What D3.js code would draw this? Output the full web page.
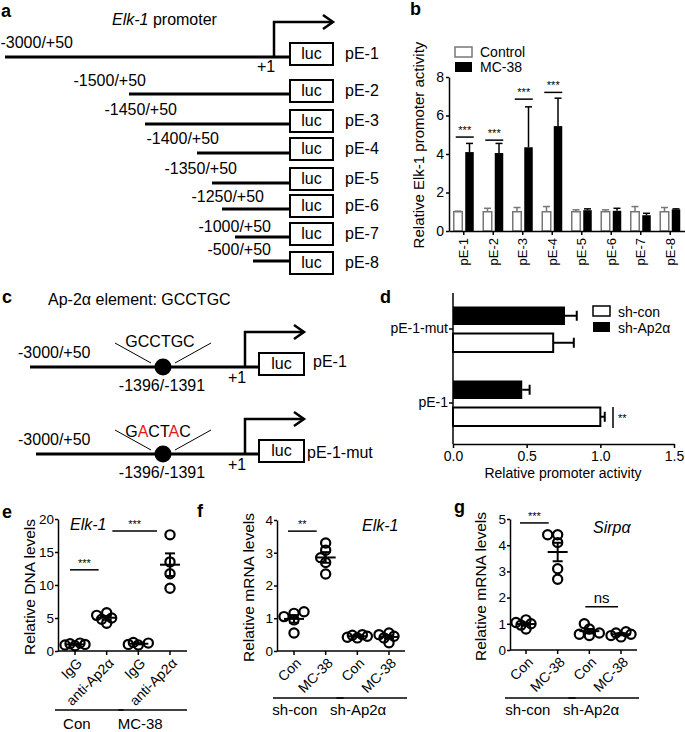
<!DOCTYPE html>
<html><head><meta charset="utf-8">
<script src="https://cdn.jsdelivr.net/npm/d3@7"></script>
<style>
body{margin:0;background:#fff}
svg{display:block}
text{font-family:"Liberation Sans",Arial,Helvetica,sans-serif;fill:#000}
</style>
</head><body>
<svg id="fig" width="685" height="732"></svg>
<script>
// ================= DATA =================
// Panel a: Elk-1 promoter deletion constructs
const aConstructs = ["pE-1","pE-2","pE-3","pE-4","pE-5","pE-6","pE-7","pE-8"];
const aStarts = [-3000,-1500,-1450,-1400,-1350,-1250,-1000,-500];
const aEnd = 50;

// Panel b: relative Elk-1 promoter activity
const bCategories = ["pE-1","pE-2","pE-3","pE-4","pE-5","pE-6","pE-7","pE-8"];
const bControl    = [1.0, 1.0, 1.0, 1.0, 1.0, 1.0, 1.0, 1.0];
const bControlErr = [0.03,0.18,0.22,0.27,0.10,0.10,0.27,0.22];
const bMC38       = [4.10,4.05,4.35,5.45,1.08,1.05,0.82,1.12];
const bMC38Err    = [0.45,0.50,2.10,1.45,0.07,0.13,0.10,0.03];
const bSigHeights = [4.88,4.72,6.85,7.20];   // "***" bars on pE-1..pE-4
const bYTicks = [0,2,4,6,8];
const bSeries = ["Control","MC-38"];

// Panel c: Ap-2α element
const cWild = "GCCTGC";
const cMut = ["G","A","C","T","A","C"];
const cMutFlags = [0,1,0,0,1,0];
const cSite = -1396;

// Panel d: relative promoter activity
const dCategories = ["pE-1-mut","pE-1"];
const dShCon      = [0.68, 1.00];
const dShConErr   = [0.14, 0.03];
const dShAp2      = [0.76, 0.47];
const dShAp2Err   = [0.08, 0.05];
const dXTicks = [0, 0.5, 1.0, 1.5];
const dSeries = ["sh-con","sh-Ap2α"];

// Panel e: ChIP, relative DNA levels
const eLabels = ["IgG","anti-Ap2α","IgG","anti-Ap2α"];
const eGroups = ["Con","MC-38"];
const ePoints = [
  [0.8, 1.0, 1.2, 1.1, 0.9],
  [4.2, 4.8, 5.0, 5.4, 5.8],
  [0.9, 1.0, 1.2, 1.3],
  [9.5, 11.7, 13.5, 17.6]
];
const eYTicks = [0,5,10,15,20];

// Panel f: Elk-1 mRNA
const fLabels = ["Con","MC-38","Con","MC-38"];
const fGroups = ["sh-con","sh-Ap2α"];
const fPoints = [
  [1.20, 1.15, 1.05, 0.95, 0.55],
  [3.30, 3.08, 2.85, 2.70, 2.35],
  [0.50, 0.45, 0.42, 0.40, 0.48],
  [0.55, 0.50, 0.45, 0.40, 0.25]
];
const fYTicks = [0,1,2,3,4];

// Panel g: Sirpα mRNA
const gLabels = ["Con","MC-38","Con","MC-38"];
const gGroups = ["sh-con","sh-Ap2α"];
const gPoints = [
  [1.15, 1.05, 1.00, 0.95, 0.80],
  [4.40, 4.40, 4.10, 3.10, 2.70],
  [1.00, 0.80, 0.65, 0.55, 0.60],
  [0.70, 0.65, 0.60, 0.55, 0.50]
];
const gYTicks = [0,1,2,3,4,5];

// ================= DRAWING =================
const svg = d3.select("#fig");
const FONT = '"Liberation Sans",Arial,Helvetica,sans-serif';

function txt(g, x, y, s, opt={}) {
  const t = g.append("text").attr("x", x).attr("y", y).text(s)
    .attr("font-size", opt.size || 15);
  if (opt.anchor) t.attr("text-anchor", opt.anchor);
  if (opt.weight) t.attr("font-weight", opt.weight);
  if (opt.style) t.attr("font-style", opt.style);
  if (opt.fill) t.style("fill", opt.fill);
  if (opt.rotate != null) t.attr("transform", `rotate(${opt.rotate},${x},${y})`);
  return t;
}
function line(g, x1, y1, x2, y2, w=1.5, c="#000") {
  return g.append("line").attr("x1",x1).attr("y1",y1).attr("x2",x2).attr("y2",y2)
    .attr("stroke",c).attr("stroke-width",w);
}
function styleAxis(ax, fs) {
  ax.attr("font-family", FONT);
  ax.selectAll("path,line").attr("stroke","#000").attr("stroke-width",1.5);
  ax.selectAll("text").attr("font-size", fs).style("fill","#000");
}
function panelLetter(x, y, s) { txt(svg, x, y, s, {size:18, weight:"bold"}); }
function arrowHead(g, x, y) {
  g.append("path").attr("d", `M${x-10},${y-7} L${x},${y} L${x-10},${y+7}`)
    .attr("fill","none").attr("stroke","#000").attr("stroke-width",2.5);
}

// ---------- Panel a ----------
(function(){
  const g = svg.append("g");
  panelLetter(1, 17, "a");
  const t = txt(g, 112, 25, "", {size:16});
  t.append("tspan").attr("font-style","italic").text("Elk-1");
  t.append("tspan").text(" promoter");
  // schematic (non-proportional) bp -> x mapping
  const xbp = d3.scaleLinear()
    .domain([-3000,-1500,-1450,-1400,-1350,-1250,-1000,-500,1,50])
    .range([5,129,145,197,212,222,235,253,274,290]);
  const rowY  = d3.scaleLinear().domain(d3.range(8)).range([57,94,124,153,183,209,237,261]);
  const boxTop= d3.scaleLinear().domain(d3.range(8)).range([43,80,110,138,168,195,223,252]);
  const labEnd= d3.scaleLinear().domain(d3.range(8)).range([73,146,177,219,237,264,271,271]);
  const labY  = d3.scaleLinear().domain(d3.range(8)).range([48,86,115,144,174,202,232,255]);
  const boxW = 43, boxH = 22;
  aConstructs.forEach((c,i)=>{
    line(g, xbp(aStarts[i]), rowY(i), xbp(aEnd), rowY(i), 3);
    g.append("rect").attr("x", xbp(aEnd)).attr("y", boxTop(i)).attr("width", boxW).attr("height", boxH)
      .attr("fill","#fff").attr("stroke","#000").attr("stroke-width",2);
    txt(g, xbp(aEnd)+boxW/2, boxTop(i)+16, "luc", {size:16, anchor:"middle"});
    txt(g, xbp(aEnd)+boxW+12, boxTop(i)+16, c, {size:16});
    txt(g, labEnd(i), labY(i), `${aStarts[i]}/+${aEnd}`, {size:16, anchor:"end"});
  });
  const tx = xbp(1);
  g.append("path").attr("d", `M${tx},${rowY(0)} V22 H${xbp(aEnd)+boxW}`)
    .attr("fill","none").attr("stroke","#000").attr("stroke-width",2.5);
  arrowHead(g, xbp(aEnd)+boxW, 22);
  txt(g, 257, 72, "+1", {size:16});
})();

// ---------- Panel b ----------
(function(){
  const g = svg.append("g");
  panelLetter(410, 15, "b");
  const x = d3.scaleBand().domain(bCategories).range([449, 685]);
  const y = d3.scaleLinear().domain([0, 8]).range([231, 77]);
  const bw = 8.5;
  const ctrlX = c => x(c) + x.bandwidth()/2 - 10;
  const mcX = c => x(c) + x.bandwidth()/2 + 1.5;
  bCategories.forEach((c,i)=>{
    const cx = ctrlX(c)+bw/2;
    line(g, cx, y(bControl[i]), cx, y(bControl[i]+bControlErr[i]), 1.5, "#777");
    line(g, cx-3.5, y(bControl[i]+bControlErr[i]), cx+3.5, y(bControl[i]+bControlErr[i]), 1.5, "#777");
    g.append("rect").attr("x", ctrlX(c)).attr("y", y(bControl[i])).attr("width", bw)
      .attr("height", y(0)-y(bControl[i])).attr("fill","#fff").attr("stroke","#777").attr("stroke-width",1.5);
    const mx = mcX(c)+bw/2;
    line(g, mx, y(bMC38[i]), mx, y(bMC38[i]+bMC38Err[i]), 1.5);
    line(g, mx-3.5, y(bMC38[i]+bMC38Err[i]), mx+3.5, y(bMC38[i]+bMC38Err[i]), 1.5);
    g.append("rect").attr("x", mcX(c)).attr("y", y(bMC38[i])).attr("width", bw)
      .attr("height", y(0)-y(bMC38[i])).attr("fill","#000");
  });
  bSigHeights.forEach((h,i)=>{
    const c = bCategories[i];
    line(g, ctrlX(c)+2, y(h), mcX(c)+bw, y(h), 1.5);
    txt(g, (ctrlX(c)+mcX(c)+bw)/2+1, y(h)-3, "***", {size:11, anchor:"middle"});
  });
  const ay = g.append("g").attr("transform","translate(449,0)")
    .call(d3.axisLeft(y).tickValues(bYTicks).tickFormat(d3.format("d")).tickSize(3).tickSizeOuter(0).tickPadding(2));
  styleAxis(ay, 14);
  const ax = g.append("g").attr("transform","translate(0,231)")
    .call(d3.axisBottom(x).tickSize(4).tickSizeOuter(0));
  styleAxis(ax, 13);
  ax.selectAll("text").attr("transform","rotate(-90)").attr("text-anchor","end")
    .attr("x", -7).attr("y", 0).attr("dy","0.35em");
  txt(g, 424, 145, "Relative Elk-1 promoter activity", {size:15, anchor:"middle", rotate:-90});
  g.append("rect").attr("x",455).attr("y",47).attr("width",17).attr("height",10)
    .attr("fill","#fff").attr("stroke","#777").attr("stroke-width",1.5);
  g.append("rect").attr("x",455).attr("y",62).attr("width",17).attr("height",10).attr("fill","#000");
  txt(g, 480, 57, bSeries[0], {size:14});
  txt(g, 480, 72, bSeries[1], {size:14});
})();

// ---------- Panel c ----------
(function(){
  const g = svg.append("g");
  panelLetter(2, 303, "c");
  txt(g, 48, 305, "Ap-2α element: GCCTGC", {size:16});
  const xbp = d3.scaleLinear().domain([-3000, cSite, 1, 50]).range([30, 163, 245, 258]);
  const rows = [
    {y:367, name:"pE-1", seq:null},
    {y:454, name:"pE-1-mut", seq:cMut}
  ];
  rows.forEach((r,ri)=>{
    const yy = r.y;
    line(g, xbp(-3000)+ (ri?6:0), yy, xbp(50), yy, 3);
    line(g, xbp(cSite)-48, yy-24, xbp(cSite)-12, yy-4, 1);
    line(g, xbp(cSite)+48, yy-24, xbp(cSite)+12, yy-4, 1);
    g.append("circle").attr("cx", xbp(cSite)).attr("cy", yy).attr("r", 8.5).attr("fill","#000");
    if (!r.seq) {
      txt(g, xbp(cSite)-3, yy-20, cWild, {size:16, anchor:"middle"});
    } else {
      const t = txt(g, xbp(cSite)-5, yy-17, "", {size:16, anchor:"middle"});
      r.seq.forEach((ch,k)=>t.append("tspan").text(ch).style("fill", cMutFlags[k] ? "#e8141b" : "#000"));
    }
    txt(g, 18, yy-9, "-3000/+50", {size:16});
    txt(g, xbp(cSite)-1, yy+24, "-1396/-1391", {size:16, anchor:"middle"});
    g.append("path").attr("d", `M${xbp(1)},${yy} V${yy-35} H304`)
      .attr("fill","none").attr("stroke","#000").attr("stroke-width",2.5);
    arrowHead(g, 304, yy-35);
    txt(g, 228, yy+16, "+1", {size:16});
    g.append("rect").attr("x", 259).attr("y", yy-14).attr("width", 45).attr("height", 22)
      .attr("fill","#fff").attr("stroke","#000").attr("stroke-width",2);
    txt(g, 281.5, yy+2, "luc", {size:16, anchor:"middle"});
    txt(g, ri ? 307 : 313, yy + (ri?4:0), r.name, {size:16});
  });
})();

// ---------- Panel d ----------
(function(){
  const g = svg.append("g");
  panelLetter(380, 303, "d");
  const x = d3.scaleLinear().domain([0, 1.5]).range([453, 674]);
  const y = d3.scaleBand().domain(dCategories).range([292, 440]);
  const bh = 18.5;
  dCategories.forEach((c,i)=>{
    const cy = y(c) + y.bandwidth()/2;
    const by = cy - 4 - bh;
    g.append("rect").attr("x", x(0)).attr("y", by).attr("width", x(dShAp2[i])-x(0)).attr("height", bh).attr("fill","#000");
    line(g, x(dShAp2[i]), by+bh/2, x(dShAp2[i]+dShAp2Err[i]), by+bh/2, 2);
    line(g, x(dShAp2[i]+dShAp2Err[i]), by+bh/2-5, x(dShAp2[i]+dShAp2Err[i]), by+bh/2+5, 2);
    const wy = cy + 4.5;
    line(g, x(dShCon[i]), wy+bh/2, x(dShCon[i]+dShConErr[i]), wy+bh/2, 2);
    line(g, x(dShCon[i]+dShConErr[i]), wy+bh/2-5, x(dShCon[i]+dShConErr[i]), wy+bh/2+5, 2);
    g.append("rect").attr("x", x(0)).attr("y", wy).attr("width", x(dShCon[i])-x(0)).attr("height", bh)
      .attr("fill","#fff").attr("stroke","#000").attr("stroke-width",2);
  });
  const ay = g.append("g").attr("transform","translate(453,0)")
    .call(d3.axisLeft(y).tickSize(4).tickSizeOuter(0).tickPadding(1));
  styleAxis(ay, 14);
  ay.select(".domain").remove();
  line(g, 453, 293, 453, 444, 1.5);
  const ax = g.append("g").attr("transform","translate(0,444)")
    .call(d3.axisBottom(x).tickValues(dXTicks).tickFormat(d3.format(".1f")).tickSize(4).tickSizeOuter(0).tickPadding(3));
  styleAxis(ax, 14);
  txt(g, 563, 478, "Relative promoter activity", {size:14, anchor:"middle"});
  const cy1 = y("pE-1") + y.bandwidth()/2;
  line(g, 613, cy1+4, 613, cy1+25, 1.5);
  txt(g, 618, cy1+19, "**", {size:11});
  g.append("rect").attr("x",593).attr("y",306).attr("width",17).attr("height",10)
    .attr("fill","#fff").attr("stroke","#000").attr("stroke-width",1.5);
  g.append("rect").attr("x",593).attr("y",322).attr("width",17).attr("height",10).attr("fill","#000");
  txt(g, 618, 317, dSeries[0], {size:14});
  txt(g, 618, 333, dSeries[1], {size:14});
})();

// ---------- Scatter panels e, f, g ----------
function dodge(vals, y) {
  const order = vals.map((v,i)=>i).sort((a,b)=>vals[a]-vals[b]);
  const placed = [], off = new Array(vals.length).fill(0);
  const cands = [0,-5,5,-10,10];
  const minD = 6;
  for (const i of order) {
    const py = y(vals[i]);
    let best = null, bestD = -1;
    for (const c of cands) {
      const d = placed.length ? d3.min(placed, p=>Math.hypot(p.x-c, p.y-py)) : Infinity;
      if (d >= minD) { best = c; break; }
      if (d > bestD) { bestD = d; best = c; }
    }
    off[i] = best; placed.push({x:best, y:py});
  }
  return off;
}
function scatterPanel(cfg) {
  const g = svg.append("g");
  panelLetter(cfg.letterX, cfg.letterY, cfg.letter);
  const y = d3.scaleLinear().domain([0, cfg.yMax]).range([cfg.y0, cfg.y1]);
  const x = d3.scalePoint().domain(d3.range(cfg.points.length)).range([cfg.xFirst, cfg.xLast]);
  const r = 4.6;
  cfg.points.forEach((vals,i)=>{
    const off = dodge(vals, y);
    const cx = x(i);
    vals.forEach((v,k)=>{
      g.append("circle").attr("cx", cx+off[k]).attr("cy", y(v)).attr("r", r)
        .attr("fill","none").attr("stroke","#000").attr("stroke-width",2.2);
    });
    const m = d3.mean(vals), sem = d3.deviation(vals)/Math.sqrt(vals.length);
    line(g, cx-10, y(m), cx+10, y(m), 2);
    line(g, cx, y(m-sem), cx, y(m+sem), 2);
    line(g, cx-5, y(m-sem), cx+5, y(m-sem), 2);
    line(g, cx-5, y(m+sem), cx+5, y(m+sem), 2);
  });
  const ay = g.append("g").attr("transform",`translate(${cfg.axisX},0)`)
    .call(d3.axisLeft(y).tickValues(cfg.yTicks).tickFormat(d3.format("d")).tickSize(3).tickSizeOuter(0).tickPadding(1));
  styleAxis(ay, 13.5);
  line(g, cfg.axisX, cfg.y0, cfg.xEnd, cfg.y0, 1.5);
  cfg.points.forEach((v,i)=>{
    line(g, x(i), cfg.y0, x(i), cfg.y0+4, 1.5);
    txt(g, x(i)+8, cfg.y0+13, cfg.labels[i], {size:14, anchor:"end", rotate:-45});
  });
  cfg.groups.forEach((gname,j)=>{
    const a = x(2*j), b = x(2*j+1);
    line(g, a-cfg.ulPad, cfg.ulY, b+cfg.ulPad-3, cfg.ulY, 1.5);
    txt(g, (a+b)/2 + cfg.gTextShift, cfg.gTextY, gname, {size:15, anchor:"middle"});
  });
  txt(g, cfg.labelX, (cfg.y0+cfg.y1)/2 + 2, cfg.ylabel, {size:15.5, anchor:"middle", rotate:-90});
  txt(g, cfg.geneX, cfg.geneY, cfg.gene, {size:16, style:"italic"});
  cfg.sig.forEach(s=>{
    line(g, x(s.i)-s.l, y(s.h), x(s.i+1)+s.r, y(s.h), 1.5);
    txt(g, (x(s.i)-s.l + x(s.i+1)+s.r)/2, y(s.h)-(s.t==="ns"?4:3), s.t, {size: s.t==="ns"?15:11, anchor:"middle"});
  });
}

scatterPanel({
  letter:"e", letterX:2, letterY:518,
  points:ePoints, labels:eLabels, groups:eGroups, yMax:20, yTicks:eYTicks,
  y0:651, y1:519, axisX:58, xEnd:187, xFirst:75, xLast:170,
  ulY:710, ulPad:20, gTextY:729, gTextShift:-14,
  labelX:35, ylabel:"Relative DNA levels",
  gene:"Elk-1", geneX:70, geneY:530,
  sig:[{i:0,h:12.3,l:5,r:-8,t:"***"},{i:2,h:18.2,l:26,r:-13,t:"***"}]
});
scatterPanel({
  letter:"f", letterX:197, letterY:517,
  points:fPoints, labels:fLabels, groups:fGroups, yMax:4, yTicks:fYTicks,
  y0:651, y1:520, axisX:277, xEnd:405, xFirst:294, xLast:389,
  ulY:698, ulPad:21, gTextY:715, gTextShift:-15,
  labelX:254, ylabel:"Relative mRNA levels",
  gene:"Elk-1", geneX:362, geneY:531,
  sig:[{i:0,h:3.66,l:6,r:-9,t:"**"}]
});
scatterPanel({
  letter:"g", letterX:454, letterY:513,
  points:gPoints, labels:gLabels, groups:gGroups, yMax:5, yTicks:gYTicks,
  y0:650, y1:519, axisX:510, xEnd:637, xFirst:526, xLast:621,
  ulY:698, ulPad:21, gTextY:715, gTextShift:-14,
  labelX:486, ylabel:"Relative mRNA levels",
  gene:"Sirpα", geneX:593, geneY:533,
  sig:[{i:0,h:4.85,l:6,r:-9,t:"***"},{i:2,h:1.65,l:4,r:-3,t:"ns"}]
});
</script>
</body></html>
